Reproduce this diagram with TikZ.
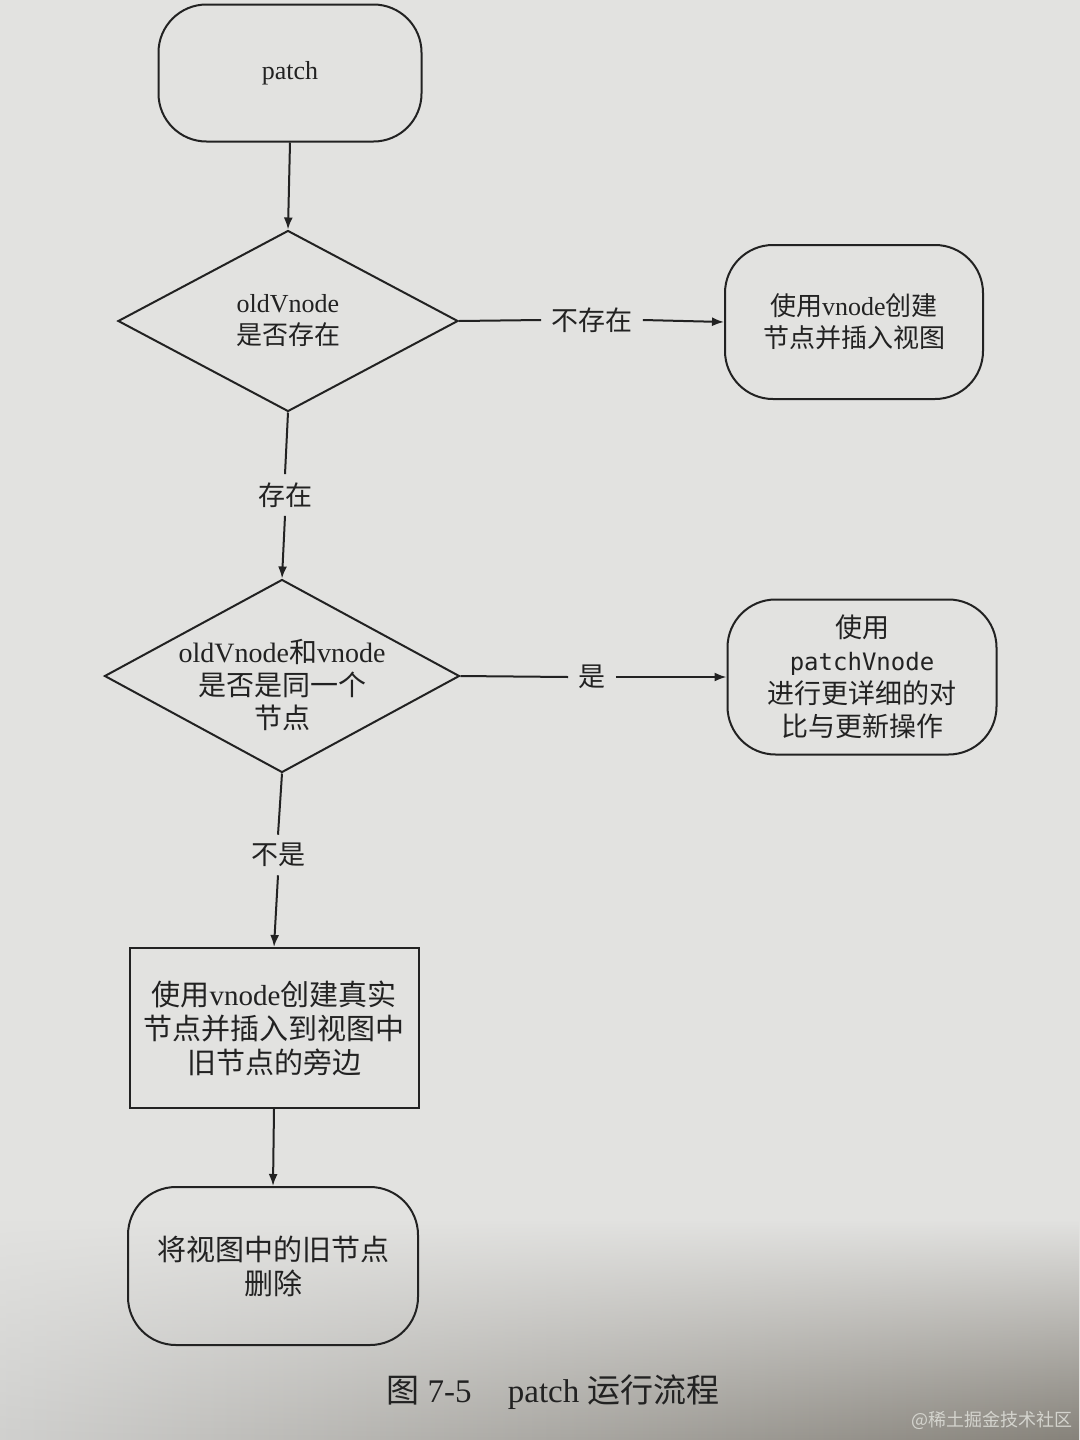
\documentclass[tikz,border=0pt]{standalone}
\usepackage{fontspec}
\setmainfont{Liberation Serif}
\newfontfamily\cjk{Noto Sans CJK SC}
\newfontfamily\monoA{DejaVu Sans Mono}
\usetikzlibrary{shapes.geometric,arrows.meta,fadings}
\newcommand{\zh}[1]{{\cjk #1}}
\definecolor{paper}{HTML}{E2E2E0}
\definecolor{paperdark}{HTML}{86827A}
\definecolor{ink}{HTML}{222222}
\definecolor{wmark}{HTML}{D4D4CE}
\begin{document}
\begin{tikzpicture}[x=0.5pt,y=-0.5pt,
  every node/.style={text=ink},
  conn/.style={draw=ink, line width=1pt},
  arr/.style={conn, -{Latex[length=6pt,width=4.5pt]}},
  term/.style={draw=ink, line width=1pt, rounded corners=24pt, align=center, inner sep=0pt},
  proc/.style={draw=ink, line width=1pt, align=center, inner sep=0pt},
  dec/.style={diamond, draw=ink, line width=1pt, align=center, inner sep=0pt, aspect=1.9},
  lbl/.style={font=\fontsize{13.5pt}{16pt}\selectfont, inner xsep=5pt, inner ysep=4pt}]
  % background
  \useasboundingbox (0,0) rectangle (1080,1440);
  \fill[paper] (0,0) rectangle (1080,1440);
  \shade[left color=paper!92!black, right color=paperdark, path fading=north] (0,1220) rectangle (1080,1440);

  % nodes
  \node[term, minimum width=131.5pt, minimum height=68.5pt, font=\fontsize{13pt}{16pt}\selectfont] (patch) at (290,73) {patch};
  \node[dec, minimum width=170pt, minimum height=90.5pt, font=\fontsize{13pt}{16pt}\selectfont] (d1) at (288,321) {oldVnode\\\zh{是否存在}};
  \node[term, minimum width=129pt, minimum height=77pt, font=\fontsize{13pt}{16pt}\selectfont] (b2) at (854,322)
      {\zh{使用}vnode\zh{创建}\\\zh{节点并插入视图}};
  \node[lbl] (l1) at (592,320) {\zh{不存在}};
  \node[lbl] (l2) at (285,495) {\zh{存在}};
  \node[dec, minimum width=177.5pt, minimum height=96.5pt,
        label={[align=center, font=\fontsize{14pt}{16.5pt}\selectfont, yshift=-4.5pt]center:oldVnode\zh{和}vnode\\\zh{是否是同一个}\\\zh{节点}}]
        (d2) at (282,676) {};
  \node[lbl] (l3) at (592,677) {\zh{是}};
  \node[term, minimum width=134.5pt, minimum height=77.5pt, font=\fontsize{13.5pt}{16.5pt}\selectfont] (b3) at (862,677)
      {\zh{使用}\\{\monoA\fontsize{12pt}{16.5pt}\selectfont patchVnode}\\\zh{进行更详细的对}\\\zh{比与更新操作}};
  \node[lbl] (l4) at (278,855) {\zh{不是}};
  \node[proc, minimum width=144.5pt, minimum height=80pt, font=\fontsize{14.5pt}{17pt}\selectfont] (r1) at (274,1028)
      {\zh{使用}vnode\zh{创建真实}\\\zh{节点并插入到视图中}\\\zh{旧节点的旁边}};
  \node[term, minimum width=145pt, minimum height=79pt, font=\fontsize{14.5pt}{17pt}\selectfont] (fin) at (273,1266)
      {\zh{将视图中的旧节点}\\\zh{删除}};

  % connectors
  \draw[arr] (patch.south) -- (d1.north);
  \draw[conn] (d1.east) -- (l1.west);
  \draw[arr] (l1.east) -- (b2.west);
  \draw[conn] (d1.south) -- (l2.north);
  \draw[arr] (l2.south) -- (d2.north);
  \draw[conn] (d2.east) -- (l3.west);
  \draw[arr] (l3.east) -- (b3.west);
  \draw[conn] (d2.south) -- (l4.north);
  \draw[arr] (l4.south) -- (r1.north);
  \draw[arr] (r1.south) -- (fin.north);

  % caption and watermark
  \node[font=\fontsize{16.5pt}{18pt}\selectfont] (cap) at (553,1392) {\zh{图} 7-5\hspace{1.1em}patch \zh{运行流程}};
  \node[font=\fontsize{9pt}{10pt}\selectfont, text=wmark] (wm) at (992,1420) {\zh{@稀土掘金技术社区}};
\end{tikzpicture}
\end{document}
